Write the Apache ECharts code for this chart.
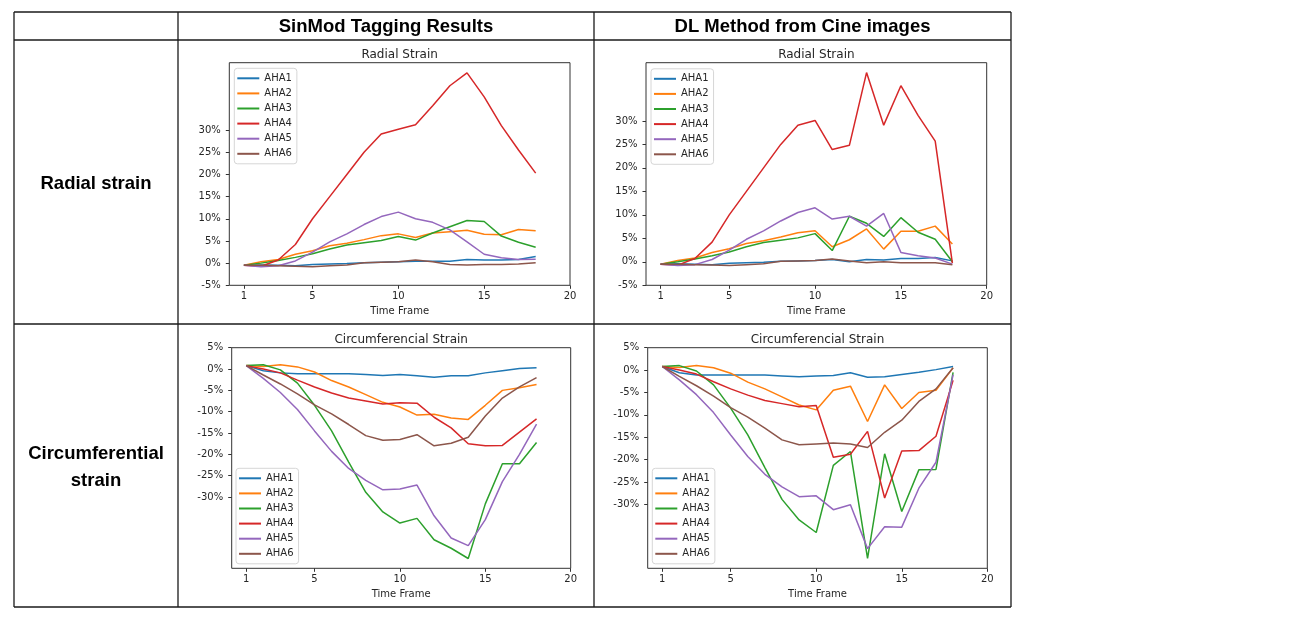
<!DOCTYPE html>
<html>
<head>
<meta charset="utf-8">
<script src="https://cdn.jsdelivr.net/npm/echarts@6/dist/echarts.min.js"></script>
<style>
html,body{margin:0;padding:0;background:#fff;}
#c{width:1296px;height:625px;}
</style>
</head>
<body>
<div id="c"></div>
<script>
// ---------------- data ----------------
const frames = [1,2,3,4,5,6,7,8,9,10,11,12,13,14,15,16,17,18];
const segments = ['AHA1','AHA2','AHA3','AHA4','AHA5','AHA6'];
const xTicks = [1,5,10,15,20];
const radialTicks = [-5,0,5,10,15,20,25,30];
const circTicks = [5,0,-5,-10,-15,-20,-25,-30];
const columnHeaders = ['SinMod Tagging Results','DL Method from Cine images'];
const rowHeaders = ['Radial strain','Circumferential\nstrain'];
const plotTitles = ['Radial Strain','Circumferencial Strain'];

// strain values in %, one list per AHA segment (AHA1..AHA6)
const sinmodRadial = [
  [-0.5,-0.4,-0.5,-0.6,-0.3,-0.2,-0.1,0.1,0.2,0.3,0.4,0.4,0.4,0.8,0.7,0.7,0.8,1.5],
  [-0.5,0.3,0.8,2.0,2.8,3.9,4.5,5.3,6.2,6.6,5.8,6.8,7.1,7.4,6.5,6.4,7.6,7.3],
  [-0.5,0.0,0.6,1.3,2.1,3.2,4.1,4.6,5.1,6.0,5.2,6.8,8.2,9.6,9.4,6.1,4.7,3.6],
  [-0.5,-0.7,0.7,4.2,10.0,15.0,20.0,25.0,29.1,30.2,31.2,35.5,40.0,42.9,37.5,31.0,25.5,20.3],
  [-0.5,-0.8,-0.6,0.5,2.5,4.8,6.6,8.7,10.5,11.5,10.0,9.2,7.5,4.8,2.0,1.2,0.8,0.9],
  [-0.5,-0.5,-0.6,-0.7,-0.8,-0.6,-0.4,0.1,0.2,0.3,0.7,0.3,-0.3,-0.4,-0.3,-0.3,-0.2,0.1]
];
const dlRadial = [
  [-0.5,-0.4,-0.5,-0.6,-0.3,-0.2,-0.1,0.1,0.2,0.3,0.5,0.0,0.5,0.4,0.7,0.7,0.9,0.2],
  [-0.5,0.3,0.8,2.0,2.8,3.9,4.5,5.3,6.2,6.6,3.2,4.7,7.0,2.7,6.5,6.5,7.6,3.8],
  [-0.5,0.0,0.6,1.3,2.1,3.2,4.1,4.6,5.1,6.0,2.4,9.7,8.2,5.4,9.4,6.3,4.8,0.0],
  [-0.5,-0.7,0.7,4.2,10.0,15.0,20.0,25.0,29.1,30.1,23.9,24.8,40.3,29.1,37.5,31.2,25.7,-0.3],
  [-0.5,-0.8,-0.6,0.5,2.5,4.8,6.6,8.7,10.5,11.5,9.1,9.7,7.6,10.3,2.0,1.3,0.8,-0.5],
  [-0.5,-0.5,-0.6,-0.7,-0.8,-0.6,-0.4,0.1,0.2,0.3,0.6,0.2,-0.2,0.0,-0.2,-0.2,-0.2,-0.6]
];
const sinmodCirc = [
  [0.8,-0.4,-0.9,-1.1,-1.1,-1.1,-1.1,-1.3,-1.5,-1.3,-1.6,-1.9,-1.6,-1.6,-0.9,-0.4,0.1,0.3],
  [0.8,0.6,1.0,0.5,-0.7,-2.7,-4.2,-6.0,-7.8,-8.9,-10.8,-10.6,-11.5,-11.8,-8.5,-5.0,-4.4,-3.6],
  [0.8,1.0,-0.2,-3.3,-8.5,-14.5,-21.8,-28.9,-33.5,-36.1,-35.0,-40.0,-42.0,-44.4,-31.6,-22.2,-22.2,-17.2],
  [0.8,0.0,-0.9,-2.6,-4.2,-5.6,-6.8,-7.5,-8.2,-7.9,-8.0,-11.3,-13.8,-17.5,-18.0,-17.9,-14.8,-11.7],
  [0.8,-2.2,-5.5,-9.5,-14.5,-19.3,-23.3,-26.1,-28.3,-28.1,-27.2,-34.4,-39.6,-41.4,-35.3,-26.4,-20.0,-12.9],
  [0.8,-1.4,-3.5,-5.8,-8.4,-10.5,-13.0,-15.6,-16.7,-16.5,-15.4,-18.0,-17.4,-16.0,-11.0,-6.8,-4.2,-2.0]
];
const dlCirc = [
  [0.8,-0.6,-1.1,-1.1,-1.1,-1.1,-1.1,-1.3,-1.5,-1.3,-1.2,-0.6,-1.6,-1.5,-1.0,-0.5,0.1,0.8],
  [0.8,0.6,1.0,0.5,-0.7,-2.7,-4.2,-6.0,-7.8,-8.9,-4.5,-3.6,-11.5,-3.3,-8.6,-5.0,-4.5,0.5],
  [0.8,1.0,-0.2,-3.3,-8.5,-14.5,-21.8,-28.9,-33.5,-36.3,-21.3,-18.2,-42.1,-18.7,-31.6,-22.3,-22.2,-0.5],
  [0.8,0.0,-0.9,-2.6,-4.2,-5.6,-6.8,-7.5,-8.2,-7.9,-19.5,-18.8,-13.7,-28.6,-18.1,-18.0,-14.8,-2.3],
  [0.8,-2.2,-5.5,-9.5,-14.5,-19.3,-23.3,-26.1,-28.3,-28.1,-31.2,-30.1,-39.9,-35.0,-35.1,-26.4,-20.6,-1.0],
  [0.8,-1.4,-3.5,-5.8,-8.4,-10.5,-13.0,-15.6,-16.7,-16.5,-16.3,-16.5,-17.3,-13.9,-11.2,-7.0,-4.2,0.5]
];

// ---------------- layout / style ----------------
const colors = ['#1f77b4','#ff7f0e','#2ca02c','#d62728','#9467bd','#8c564b'];
const panels = [
  {data: sinmodRadial, title: plotTitles[0], ticks: radialTicks, ymin: -5, ymax: 45.2,
   grid: {left: 229.3, top: 62.7, width: 340.7, height: 222.6}, legend: {left: 234.3, top: 68.3}},
  {data: dlRadial, title: plotTitles[0], ticks: radialTicks, ymin: -5, ymax: 42.4,
   grid: {left: 646, top: 62.7, width: 340.7, height: 222.6}, legend: {left: 651, top: 68.8}},
  {data: sinmodCirc, title: plotTitles[1], ticks: circTicks, ymin: -46.7, ymax: 5,
   grid: {left: 231.7, top: 347.7, width: 339, height: 220.6}, legend: {left: 236, top: 468.3}},
  {data: dlCirc, title: plotTitles[1], ticks: circTicks, ymin: -44.3, ymax: 5,
   grid: {left: 647.7, top: 347.7, width: 339.6, height: 220.6}, legend: {left: 652.3, top: 468.3}}
];
const FONT = 'DejaVu Sans';
const TXT = '#262626';

const option = {
  animation: false,
  backgroundColor: '#fff',
  color: colors,
  title: [], grid: [], xAxis: [], yAxis: [], legend: [], series: [],
  graphic: []
};

panels.forEach((p, k) => {
  option.grid.push(Object.assign({show: true, borderColor: '#333', borderWidth: 1, backgroundColor: '#fff', containLabel: false}, p.grid));
  option.title.push({
    text: p.title, left: p.grid.left + p.grid.width / 2, top: p.grid.top - 14, textAlign: 'center', padding: 0,
    textStyle: {fontFamily: FONT, fontSize: 12, fontWeight: 'normal', color: TXT}
  });
  option.xAxis.push({
    type: 'value', gridIndex: k, min: 0.15, max: 20, position: 'bottom',
    name: 'Time Frame', nameLocation: 'middle', nameGap: 21.5,
    nameTextStyle: {fontFamily: FONT, fontSize: 10, color: TXT},
    axisLine: {show: false, onZero: false},
    axisTick: {show: true, inside: false, length: 3.5, customValues: xTicks, lineStyle: {color: '#333', width: 1}},
    axisLabel: {customValues: xTicks, fontFamily: FONT, fontSize: 10, color: TXT, margin: 6},
    splitLine: {show: false}
  });
  option.yAxis.push({
    type: 'value', gridIndex: k, min: p.ymin, max: p.ymax, position: 'left',
    axisLine: {show: false, onZero: false},
    axisTick: {show: true, inside: false, length: 3.5, customValues: p.ticks, lineStyle: {color: '#333', width: 1}},
    axisLabel: {customValues: p.ticks, fontFamily: FONT, fontSize: 10, color: TXT, margin: 8.5,
      formatter: v => v + '%'},
    splitLine: {show: false}
  });
  option.legend.push({
    orient: 'vertical', left: p.legend.left, top: p.legend.top, data: segments,
    icon: 'rect', itemWidth: 22, itemHeight: 2, itemGap: 3.1,
    padding: [4, 5, 4, 3], borderColor: '#d6d6d6', borderWidth: 1, borderRadius: 3,
    backgroundColor: 'rgba(255,255,255,0.85)', selectedMode: false,
    textStyle: {fontFamily: FONT, fontSize: 10, color: TXT, lineHeight: 12}
  });
  p.data.forEach((vals, i) => {
    option.series.push({
      type: 'line', name: segments[i], xAxisIndex: k, yAxisIndex: k,
      data: frames.map((f, j) => [f, vals[j]]),
      symbol: 'none', color: colors[i], lineStyle: {width: 1.5, color: colors[i]},
      clip: true, z: 2
    });
  });
});

// table frame
const TL = {x0: 14, x1: 178, x2: 594, x3: 1011, y0: 12, y1: 40, y2: 324, y3: 607};
const lineStyle = {stroke: '#1a1a1a', lineWidth: 1.3};
[TL.y0, TL.y1, TL.y2, TL.y3].forEach(y => option.graphic.push({type: 'line', shape: {x1: TL.x0, y1: y, x2: TL.x3, y2: y}, style: lineStyle, z: 100}));
[TL.x0, TL.x1, TL.x2, TL.x3].forEach(x => option.graphic.push({type: 'line', shape: {x1: x, y1: TL.y0, x2: x, y2: TL.y3}, style: lineStyle, z: 100}));

const headFont = 'bold 18.5px "Liberation Sans", Arial, sans-serif';
option.graphic.push({type: 'text', x: (TL.x1 + TL.x2) / 2, y: 27, style: {text: columnHeaders[0], font: headFont, fill: '#000', align: 'center', verticalAlign: 'middle'}, z: 100});
option.graphic.push({type: 'text', x: (TL.x2 + TL.x3) / 2, y: 27, style: {text: columnHeaders[1], font: headFont, fill: '#000', align: 'center', verticalAlign: 'middle'}, z: 100});
option.graphic.push({type: 'text', x: (TL.x0 + TL.x1) / 2, y: 184, style: {text: rowHeaders[0], font: headFont, fill: '#000', align: 'center', verticalAlign: 'middle'}, z: 100});
option.graphic.push({type: 'text', x: (TL.x0 + TL.x1) / 2, y: 467, style: {text: rowHeaders[1], font: headFont, fill: '#000', align: 'center', verticalAlign: 'middle', lineHeight: 27}, z: 100});

const chart = echarts.init(document.getElementById('c'));
chart.setOption(option);
</script>
</body>
</html>
